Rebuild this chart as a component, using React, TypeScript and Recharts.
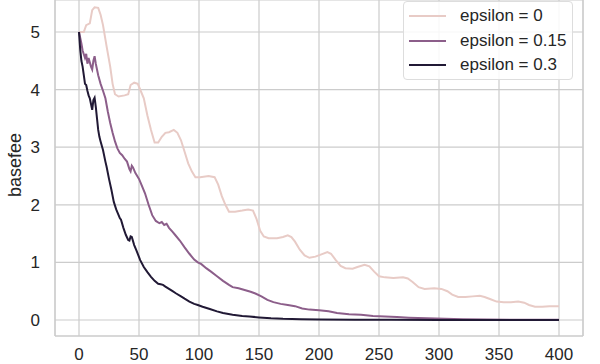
import { LineChart, Line, XAxis, YAxis, CartesianGrid, ReferenceLine } from 'recharts';

// epsilon = 0
const eps0X = [0, 4, 6, 9, 11, 13, 16, 18, 20, 23, 26, 28, 30, 33, 38, 41, 43, 46, 49, 52, 54, 57, 60, 63, 66, 69, 72, 75, 79, 82, 85, 88, 91, 94, 97, 101, 108, 113, 116, 119, 122, 125, 130, 136, 141, 145, 148, 151, 154, 158, 165, 170, 174, 177, 180, 184, 188, 192, 197, 202, 207, 210, 214, 218, 222, 228, 232, 238, 242, 246, 250, 255, 262, 270, 274, 278, 283, 288, 296, 302, 307, 311, 316, 322, 328, 334, 338, 343, 348, 354, 360, 366, 371, 375, 380, 386, 392, 400];
const eps0Y = [5.0, 5.0, 5.12, 5.15, 5.38, 5.43, 5.42, 5.3, 5.12, 4.75, 4.4, 4.1, 3.92, 3.88, 3.9, 3.92, 4.08, 4.12, 4.1, 3.95, 3.85, 3.55, 3.3, 3.08, 3.08, 3.18, 3.25, 3.26, 3.3, 3.25, 3.12, 2.92, 2.72, 2.58, 2.48, 2.48, 2.5, 2.48, 2.35, 2.15, 2.0, 1.88, 1.88, 1.9, 1.92, 1.9, 1.75, 1.55, 1.45, 1.42, 1.42, 1.44, 1.47, 1.44, 1.36, 1.22, 1.12, 1.08, 1.1, 1.14, 1.18, 1.15, 1.04, 0.94, 0.9, 0.89, 0.92, 0.96, 0.93, 0.84, 0.76, 0.74, 0.73, 0.74, 0.72, 0.66, 0.57, 0.54, 0.55, 0.54, 0.5, 0.44, 0.4, 0.4, 0.41, 0.42, 0.4, 0.36, 0.32, 0.31, 0.31, 0.32, 0.3, 0.26, 0.23, 0.23, 0.24, 0.24];

// epsilon = 0.15
const eps15X = [0, 2, 3, 5, 6, 7, 8, 10, 11, 12, 13, 14, 16, 18, 20, 22, 24, 26, 28, 30, 32, 34, 36, 38, 40, 42, 43, 44, 45, 47, 50, 52, 55, 58, 61, 64, 67, 69, 71, 73, 75, 78, 80, 84, 88, 92, 96, 99, 102, 106, 110, 115, 120, 125, 128, 133, 138, 143, 147, 152, 157, 162, 168, 174, 180, 186, 192, 200, 208, 215, 225, 235, 245, 255, 265, 275, 290, 305, 320, 340, 360, 380, 400];
const eps15Y = [5.0, 4.8, 4.68, 4.55, 4.62, 4.45, 4.55, 4.4, 4.35, 4.5, 4.58, 4.45, 4.25, 4.1, 3.98, 3.85, 3.62, 3.42, 3.25, 3.1, 2.98, 2.9, 2.86, 2.8, 2.75, 2.62, 2.58, 2.68, 2.65, 2.55, 2.45, 2.35, 2.2, 2.0, 1.82, 1.72, 1.68, 1.7, 1.65, 1.67, 1.6, 1.53, 1.48, 1.38, 1.26, 1.15, 1.05, 1.0, 0.97, 0.9, 0.84, 0.76, 0.68, 0.61, 0.57, 0.55, 0.52, 0.49, 0.46, 0.41, 0.35, 0.31, 0.28, 0.26, 0.24, 0.2, 0.18, 0.17, 0.15, 0.12, 0.1, 0.09, 0.07, 0.06, 0.05, 0.04, 0.03, 0.02, 0.015, 0.01, 0.005, 0.003, 0.002];

// epsilon = 0.3
const eps30X = [0, 1, 2, 3, 4, 5, 6, 7, 8, 9, 10, 11, 12, 13, 14, 15, 16, 17, 18, 20, 22, 23, 25, 27, 29, 31, 33, 34, 35, 37, 39, 41, 42, 43, 44, 46, 48, 51, 54, 57, 60, 63, 66, 68, 70, 72, 75, 78, 81, 85, 88, 92, 96, 99, 103, 109, 115, 120, 128, 136, 142, 150, 160, 170, 185, 200, 230, 260, 300, 400];
const eps30Y = [5.0, 4.7, 4.5, 4.4, 4.25, 4.1, 4.08, 3.98, 3.9, 3.85, 3.75, 3.65, 3.82, 3.86, 3.7, 3.5, 3.3, 3.18, 3.1, 2.95, 2.75, 2.66, 2.45, 2.26, 2.05, 1.92, 1.82, 1.77, 1.74, 1.6, 1.48, 1.39, 1.38, 1.45, 1.44, 1.3, 1.2, 1.04, 0.92, 0.83, 0.75, 0.68, 0.63, 0.62, 0.61, 0.58, 0.54, 0.5, 0.46, 0.41, 0.37, 0.32, 0.28, 0.26, 0.23, 0.19, 0.15, 0.12, 0.09, 0.07, 0.06, 0.045, 0.03, 0.02, 0.012, 0.008, 0.004, 0.002, 0.001, 0.0];

const xTicks = [0, 50, 100, 150, 200, 250, 300, 350, 400];
const yTicks = [0, 1, 2, 3, 4, 5];

const seriesNames = ['epsilon = 0', 'epsilon = 0.15', 'epsilon = 0.3'];
const seriesColors = ['#e8cbc6', '#8c5e8a', '#211935'];

const zip = (xs: number[], ys: number[]) => xs.map((x, i) => ({ x, y: ys[i] }));
const series = [zip(eps0X, eps0Y), zip(eps15X, eps15Y), zip(eps30X, eps30Y)];

const font = '"Liberation Sans", Arial, sans-serif';
const textColor = '#262626';
const gridColor = '#cccccc';

export default function App() {
  return (
    <div style={{ position: 'absolute', left: 0, top: 0, width: 600, height: 364, background: '#fff', fontFamily: font }}>
      <LineChart width={600} height={364} margin={{ top: 0, right: 17, bottom: 0, left: 0 }}>
        <CartesianGrid stroke={gridColor} strokeWidth={1.2} />
        <XAxis
          type="number"
          dataKey="x"
          domain={[-20, 420]}
          ticks={xTicks}
          allowDataOverflow
          height={28}
          tickLine={false}
          tickSize={0}
          tickMargin={12}
          axisLine={{ stroke: gridColor, strokeWidth: 1.2 }}
          tick={{ fill: textColor, fontSize: 17, fontFamily: font }}
        />
        <YAxis
          type="number"
          dataKey="y"
          domain={[-0.278, 5.556]}
          ticks={yTicks}
          allowDataOverflow
          width={55}
          tickLine={false}
          tickSize={0}
          tickMargin={15}
          axisLine={{ stroke: gridColor, strokeWidth: 1.2 }}
          tick={{ fill: textColor, fontSize: 17, fontFamily: font }}
        />
        <ReferenceLine x={420} stroke={gridColor} strokeWidth={1.2} />
        {series.map((d, i) => (
          <Line
            key={seriesNames[i]}
            data={d}
            dataKey="y"
            name={seriesNames[i]}
            type="linear"
            stroke={seriesColors[i]}
            strokeWidth={2}
            dot={false}
            activeDot={false}
            isAnimationActive={false}
          />
        ))}
        <text
          x={15}
          y={165}
          transform="rotate(-90 15 165)"
          textAnchor="middle"
          dominantBaseline="central"
          fill={textColor}
          fontSize={18}
          fontFamily={font}
        >
          basefee
        </text>
      </LineChart>
      <div
        style={{
          position: 'absolute',
          left: 403,
          top: 1,
          width: 168,
          height: 77,
          border: '1px solid #dddddd',
          borderRadius: 4,
          background: 'rgba(255,255,255,0.85)',
        }}
      >
        {seriesNames.map((name, i) => (
          <div key={name} style={{ position: 'absolute', left: 5, top: 2 + i * 24.5, height: 24, display: 'flex', alignItems: 'center' }}>
            <span style={{ display: 'inline-block', width: 37, height: 2, background: seriesColors[i], marginRight: 14 }} />
            <span style={{ fontSize: 17, color: textColor, whiteSpace: 'nowrap' }}>{name}</span>
          </div>
        ))}
      </div>
    </div>
  );
}
